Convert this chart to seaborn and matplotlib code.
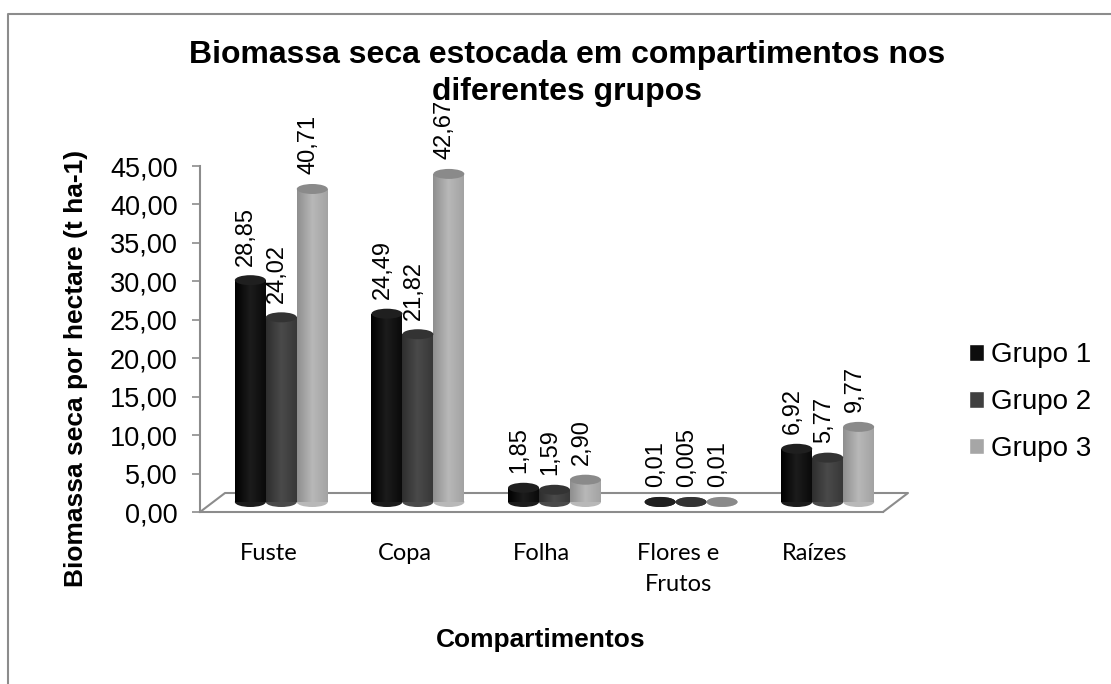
import numpy as np
import pandas as pd
import matplotlib.pyplot as plt
import matplotlib.transforms as mtransforms
from matplotlib.patches import Ellipse
from matplotlib.lines import Line2D
from matplotlib.colors import LinearSegmentedColormap
from matplotlib.ticker import FuncFormatter
import seaborn as sns

# chart data
categories = ["Fuste", "Copa", "Folha", "Flores e\nFrutos", "Raízes"]
groups = ["Grupo 1", "Grupo 2", "Grupo 3"]
grupo1 = [28.85, 24.49, 1.85, 0.01, 6.92]
grupo2 = [24.02, 21.82, 1.59, 0.005, 5.77]
grupo3 = [40.71, 42.67, 2.90, 0.01, 9.77]
labels1 = ["28,85", "24,49", "1,85", "0,01", "6,92"]
labels2 = ["24,02", "21,82", "1,59", "0,005", "5,77"]
labels3 = ["40,71", "42,67", "2,90", "0,01", "9,77"]

bar_colors = ["#0d0d0d", "#404040", "#a6a6a6"]
cap_colors = ["#1f1f1f", "#333333", "#8a8a8a"]
# left edge / highlight / right edge shades for the cylinder look
shades = [["#000000", "#1c1c1c", "#0a0a0a"],
          ["#2e2e2e", "#4a4a4a", "#383838"],
          ["#8f8f8f", "#b8b8b8", "#a3a3a3"]]

# long format for seaborn
df = pd.DataFrame({
    "comp": categories * 3,
    "valor": grupo1 + grupo2 + grupo3,
    "grupo": [g for g in groups for _ in categories],
    "rotulo": labels1 + labels2 + labels3,
})

sns.set_theme(style="white")
plt.rcParams["font.family"] = ["Liberation Sans", "DejaVu Sans"]
plt.rcParams["text.color"] = "black"
plt.rcParams["xtick.color"] = "black"
plt.rcParams["ytick.color"] = "black"

fig = plt.figure(figsize=(11.11, 6.84), dpi=100)
ax = fig.add_axes([200 / 1111, 172 / 684, 683 / 1111, 346 / 684])

sns.barplot(data=df, x="comp", y="valor", hue="grupo", palette=bar_colors,
            width=0.68, gap=0, saturation=1, ax=ax, legend=True)

# fake 3D: push bars back a bit and give them round caps
depth = mtransforms.ScaledTranslation(0.13, 0.10, fig.dpi_scale_trans)
lab_shift = mtransforms.ScaledTranslation(0.09, 0.245, fig.dpi_scale_trans)
cap_h = 1.3  # ellipse height in data units
grad = np.linspace(0, 1, 64).reshape(1, -1)

for gi, cont in enumerate(ax.containers):
    rows = df[df["grupo"] == groups[gi]]
    cmap = LinearSegmentedColormap.from_list("cyl%d" % gi, shades[gi])
    for p, txt in zip(cont.patches, rows["rotulo"]):
        p.set_transform(ax.transData + depth)
        p.set_clip_on(False)
        p.set_linewidth(0)
        p.set_zorder(2)
        x0, w, h = p.get_x(), p.get_width(), p.get_height()
        xc = x0 + w / 2
        im = ax.imshow(grad, extent=[x0, x0 + w, 0, max(h, 0.001)], aspect="auto",
                       cmap=cmap, transform=ax.transData + depth, zorder=2.1,
                       interpolation="bilinear")
        im.set_clip_path(p)
        bottom = Ellipse((xc, 0), w, cap_h, facecolor=shades[gi][1], edgecolor="none",
                         lw=0, transform=ax.transData + depth, clip_on=False, zorder=1.9)
        top = Ellipse((xc, h), w, cap_h, facecolor=cap_colors[gi], edgecolor="none",
                      lw=0, transform=ax.transData + depth, clip_on=False, zorder=2.5)
        ax.add_patch(bottom)
        ax.add_patch(top)
        ax.text(xc, h, txt, rotation=90, ha="center", va="bottom", fontsize=17,
                transform=ax.transData + lab_shift, clip_on=False)

ax.set_xlim(-0.5, 4.5)
ax.set_ylim(0, 45)
ax.set_aspect("auto")
ax.set_yticks(range(0, 50, 5))
ax.yaxis.set_major_formatter(FuncFormatter(lambda v, pos: f"{v:.2f}".replace(".", ",")))
ax.tick_params(axis="y", which="major", left=True, length=6, width=1.2,
               color="#8c8c8c", pad=10, labelsize=19.5)
ax.tick_params(axis="x", length=0, pad=22)
for lbl in ax.get_xticklabels():
    lbl.set_fontfamily(["Lato", "DejaVu Sans"])
    lbl.set_fontsize(17)
    lbl.set_linespacing(1.6)
    lbl.set_verticalalignment("top")

for s in ["top", "right"]:
    ax.spines[s].set_visible(False)
for s in ["left", "bottom"]:
    ax.spines[s].set_color("#8c8c8c")
    ax.spines[s].set_linewidth(1.5)

# back edge of the floor
ox, oy = 25 / 683, 19 / 346
ax.plot([0, ox, 1 + ox, 1], [0, oy, oy, 0], transform=ax.transAxes,
        color="#8c8c8c", lw=1.5, clip_on=False, zorder=0.5)

ax.set_xlabel("")
ax.set_ylabel("")

# legend on the right
handles, leg_labels = ax.get_legend_handles_labels()
ax.legend(handles, leg_labels, loc="center left", bbox_to_anchor=(969 / 1111, 1 - 402 / 684),
          bbox_transform=fig.transFigure, frameon=False, fontsize=20,
          handlelength=0.55, handleheight=0.55, handletextpad=0.25, labelspacing=0.75,
          borderpad=0, borderaxespad=0)

fig.text(567 / 1111, 1 - 40 / 684,
         "Biomassa seca estocada em compartimentos nos\ndiferentes grupos",
         ha="center", va="top", fontsize=23, fontweight="bold", linespacing=1.32)
fig.text(76 / 1111, 1 - 368 / 684, "Biomassa seca por hectare (t ha-1)",
         rotation=90, ha="center", va="center", fontsize=19, fontweight="bold")
fig.text(541 / 1111, 1 - 640 / 684, "Compartimentos",
         ha="center", va="center", fontsize=19, fontweight="bold")

# outer chart frame
fig.add_artist(Line2D([8 / 1111, 8 / 1111, 1], [0, 1 - 14 / 684, 1 - 14 / 684],
                      transform=fig.transFigure, color="#8c8c8c", lw=1.5))

fig.savefig("out.png", dpi=100)
